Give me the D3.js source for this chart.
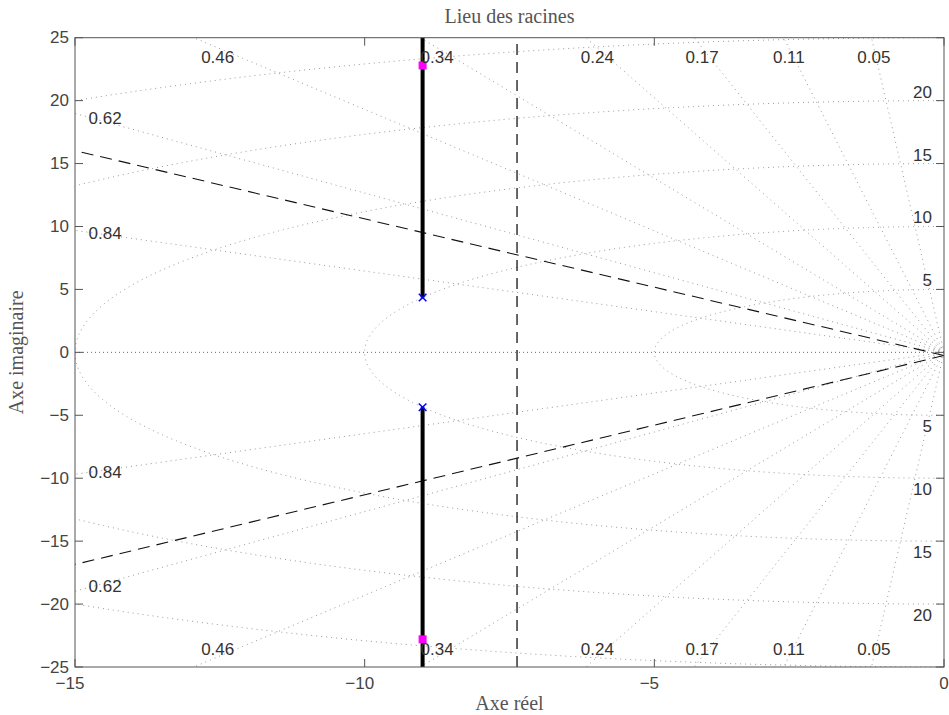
<!DOCTYPE html>
<html>
<head>
<meta charset="utf-8">
<script src="https://cdn.jsdelivr.net/npm/d3@7"></script>
<style>
  html, body { margin: 0; padding: 0; background: #fff; }
  svg { display: block; }
</style>
</head>
<body>
<svg id="chart" width="949" height="715"></svg>
<script>
// Root locus with s-plane grid (damping lines and natural-frequency circles)
const xTicks = [-15, -10, -5, 0];
const yTicks = [-25, -20, -15, -10, -5, 0, 5, 10, 15, 20, 25];
const zetaValues = [0.05, 0.11, 0.17, 0.24, 0.34, 0.46, 0.62, 0.84];
const zetaTopLabels = [0.05, 0.11, 0.17, 0.24, 0.34, 0.46];
const zetaSideLabels = [0.62, 0.84];
const wnCircles = [5, 10, 15, 20, 25, 30];
const wnLabels = [5, 10, 15, 20];
const openLoopPoles = [{ re: -9, im: 4.36 }, { re: -9, im: -4.36 }];
const closedLoopPoles = [{ re: -9, im: 22.8 }, { re: -9, im: -22.8 }];
const locusBranches = [
  [{ re: -9, im: 4.36 }, { re: -9, im: 40 }],
  [{ re: -9, im: -4.36 }, { re: -9, im: -40 }]
];
const sigmaLimit = -7.37;      // settling-time boundary
// overshoot boundary lines
const zetaBoundaries = [
  [{ re: 0, im: -0.25 }, { re: -15, im: 16.03 }],
  [{ re: 0, im: -0.25 }, { re: -15, im: -16.85 }]
];

const svg = d3.select("#chart");
const margin = { left: 75, right: 5, top: 37.7, bottom: 48 };
const W = 949, H = 715;
const x = d3.scaleLinear().domain([-15, 0]).range([margin.left, W - margin.right]);
const y = d3.scaleLinear().domain([-25, 25]).range([H - margin.bottom, margin.top]);

const sans = "'Liberation Sans', Arial, Helvetica, sans-serif";
const serif = "'Liberation Serif', 'Times New Roman', serif";

svg.append("defs").append("clipPath").attr("id", "plot-clip")
  .append("rect")
  .attr("x", x(-15)).attr("y", y(25))
  .attr("width", x(0) - x(-15)).attr("height", y(-25) - y(25));

const plot = svg.append("g").attr("clip-path", "url(#plot-clip)");
const line = d3.line().x(d => x(d.re)).y(d => y(d.im));

// natural-frequency circles (left half plane)
wnCircles.forEach(wn => {
  const pts = d3.range(90, 270.01, 0.5).map(a => ({
    re: wn * Math.cos(a * Math.PI / 180),
    im: wn * Math.sin(a * Math.PI / 180)
  }));
  plot.append("path").attr("d", line(pts))
    .attr("fill", "none").attr("stroke", "#9a9a9a")
    .attr("stroke-width", 1).attr("stroke-dasharray", "1,4");
});

// constant damping rays
zetaValues.forEach(z => {
  const s = Math.sqrt(1 - z * z);
  [1, -1].forEach(sign => {
    const R = 200;
    plot.append("path")
      .attr("d", line([{ re: 0, im: 0 }, { re: -R * z, im: sign * R * s }]))
      .attr("fill", "none").attr("stroke", "#9a9a9a")
      .attr("stroke-width", 1).attr("stroke-dasharray", "1,4");
  });
});

// real axis
plot.append("path").attr("d", line([{ re: -15, im: 0 }, { re: 0, im: 0 }]))
  .attr("fill", "none").attr("stroke", "#666")
  .attr("stroke-width", 1).attr("stroke-dasharray", "1,3,1,3");

// design boundaries
plot.append("path").attr("d", line([{ re: sigmaLimit, im: -25 }, { re: sigmaLimit, im: 25 }]))
  .attr("fill", "none").attr("stroke", "#000").attr("stroke-width", 1.2)
  .attr("stroke-dasharray", "11,7");
zetaBoundaries.forEach(b => {
  plot.append("path").attr("d", line(b))
    .attr("fill", "none").attr("stroke", "#111").attr("stroke-width", 1.1)
    .attr("stroke-dasharray", "12,7");
});

// root locus branches
locusBranches.forEach(b => {
  plot.append("path").attr("d", line(b))
    .attr("fill", "none").attr("stroke", "#000").attr("stroke-width", 4);
});

// open-loop poles
const xs = 3.8;
openLoopPoles.forEach(p => {
  const cx = x(p.re), cy = y(p.im);
  plot.append("path")
    .attr("d", `M${cx - xs},${cy - xs}L${cx + xs},${cy + xs}M${cx - xs},${cy + xs}L${cx + xs},${cy - xs}`)
    .attr("stroke", "#0000ff").attr("stroke-width", 1.5);
});

// closed-loop poles
closedLoopPoles.forEach(p => {
  plot.append("rect")
    .attr("x", x(p.re) - 4).attr("y", y(p.im) - 4)
    .attr("width", 8).attr("height", 8)
    .attr("fill", "#ff00ff");
});

// damping labels
const zetaX = (z, im) => -Math.abs(im) * z / Math.sqrt(1 - z * z);
const labels = svg.append("g").attr("font-family", sans).attr("font-size", 17).attr("fill", "#333");
zetaTopLabels.forEach(z => {
  labels.append("text").attr("text-anchor", "middle")
    .attr("x", x(zetaX(z, 24.2))).attr("y", y(24.2) + 15.6).text(String(z));
  labels.append("text").attr("text-anchor", "middle")
    .attr("x", x(zetaX(z, 24.2))).attr("y", y(-24.2) - 2).text(String(z));
});
zetaSideLabels.forEach(z => {
  const im = 14.7 * Math.sqrt(1 - z * z) / z;
  labels.append("text").attr("text-anchor", "middle")
    .attr("x", x(-14.48)).attr("y", y(im) + 6).text(String(z));
  labels.append("text").attr("text-anchor", "middle")
    .attr("x", x(-14.48)).attr("y", y(-im) + 6).text(String(z));
});
// natural-frequency labels
wnLabels.forEach(wn => {
  labels.append("text").attr("text-anchor", "end")
    .attr("x", x(0) - 12).attr("y", y(wn) - 3).text(String(wn));
  labels.append("text").attr("text-anchor", "end")
    .attr("x", x(0) - 12).attr("y", y(-wn) + 17).text(String(wn));
});

// axes box and inward ticks
const axisColor = "#555";
svg.append("rect")
  .attr("x", x(-15)).attr("y", y(25))
  .attr("width", x(0) - x(-15)).attr("height", y(-25) - y(25))
  .attr("fill", "none").attr("stroke", axisColor).attr("stroke-width", 1);

const tk = 8;
const ticks = svg.append("g").attr("stroke", axisColor).attr("stroke-width", 1);
xTicks.forEach(t => {
  ticks.append("line").attr("x1", x(t)).attr("x2", x(t)).attr("y1", y(-25)).attr("y2", y(-25) - tk);
  ticks.append("line").attr("x1", x(t)).attr("x2", x(t)).attr("y1", y(25)).attr("y2", y(25) + tk);
});
yTicks.forEach(t => {
  ticks.append("line").attr("x1", x(-15)).attr("x2", x(-15) + tk).attr("y1", y(t)).attr("y2", y(t));
  ticks.append("line").attr("x1", x(0)).attr("x2", x(0) - tk).attr("y1", y(t)).attr("y2", y(t));
});

const fmt = v => (v < 0 ? "\u2212" : "") + Math.abs(v);
const tickText = svg.append("g").attr("font-family", sans).attr("font-size", 17).attr("fill", "#444");
xTicks.forEach(t => {
  // number centred under the tick, minus sign hanging to the left
  tickText.append("text").attr("x", x(t)).attr("y", y(-25) + 22)
    .attr("text-anchor", "middle").text(String(Math.abs(t)));
  if (t < 0) {
    tickText.append("text").attr("x", x(t) - String(Math.abs(t)).length * 4.73)
      .attr("y", y(-25) + 22).attr("text-anchor", "end").text("\u2212");
  }
});
yTicks.forEach(t => {
  tickText.append("text").attr("x", x(-15) - 6).attr("y", y(t) + 5.5)
    .attr("text-anchor", "end").text(fmt(t));
});

// title and axis labels
svg.append("text").attr("x", (x(-15) + x(0)) / 2).attr("y", 22.7)
  .attr("text-anchor", "middle").attr("font-family", serif).attr("font-size", 20)
  .attr("fill", "#555").text("Lieu des racines");
svg.append("text").attr("x", (x(-15) + x(0)) / 2).attr("y", 710)
  .attr("text-anchor", "middle").attr("font-family", serif).attr("font-size", 20)
  .attr("fill", "#555").text("Axe réel");
svg.append("text")
  .attr("transform", `translate(23,${(y(25) + y(-25)) / 2}) rotate(-90)`)
  .attr("text-anchor", "middle").attr("font-family", serif).attr("font-size", 20)
  .attr("fill", "#555").text("Axe imaginaire");
</script>
</body>
</html>
